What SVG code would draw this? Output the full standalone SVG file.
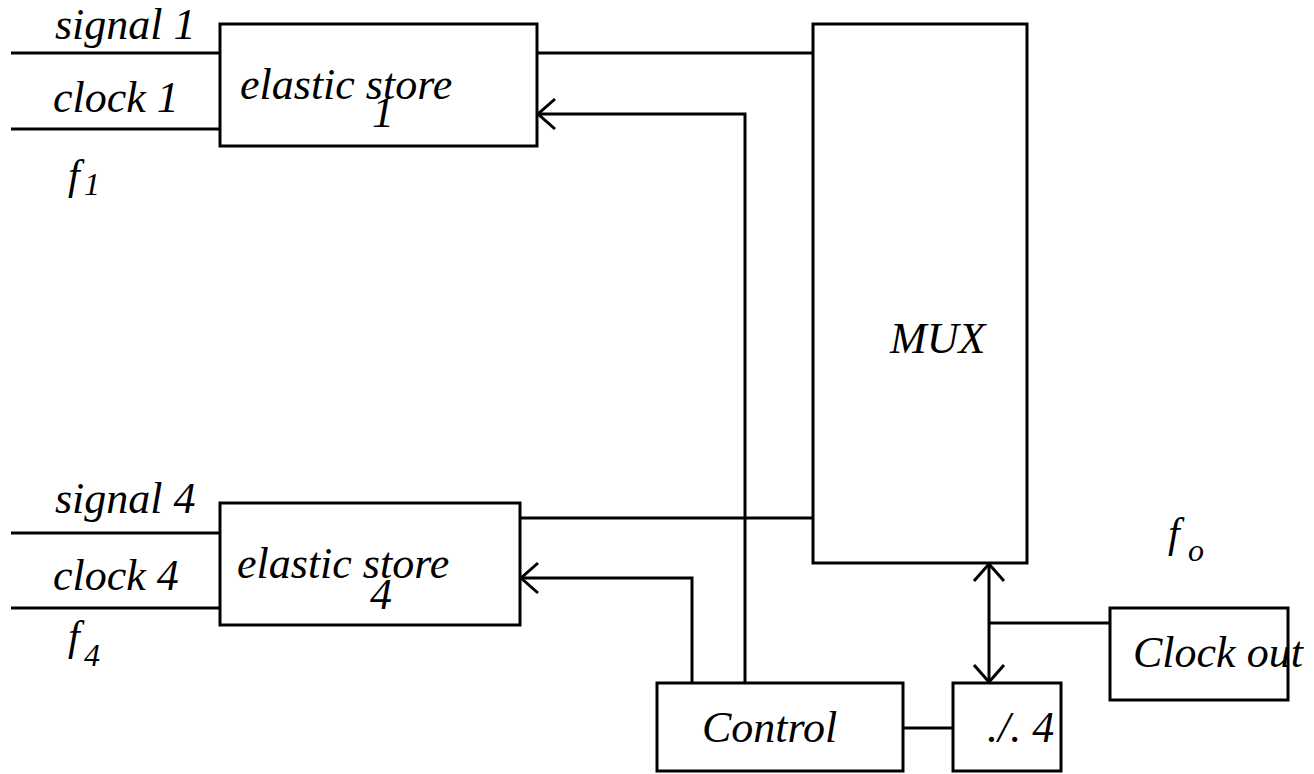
<svg xmlns="http://www.w3.org/2000/svg" width="1314" height="774" viewBox="0 0 1314 774">
  <style>
    text { font-family: 'Liberation Serif', 'DejaVu Serif', serif; font-style: italic; font-size: 44px; fill: #000; }
    .sub { font-size: 32px; }
    .fsym { font-size: 42px; }
    rect.box { fill: #fff; stroke: #000; stroke-width: 3; }
    .wire { fill: none; stroke: #000; stroke-width: 3; }
  </style>
  <defs>
    <marker id="chev" viewBox="-20 -18 22 36" refX="0" refY="0" markerWidth="22" markerHeight="36" markerUnits="userSpaceOnUse" orient="auto-start-reverse">
      <path d="M-17,-15 L0,0 L-17,15" fill="none" stroke="#000" stroke-width="3"/>
    </marker>
  </defs>

  <rect width="1314" height="774" fill="#fff"/>

  <!-- wiring -->
  <g id="connectors">
    <path class="wire" d="M11,53 H220"/>
    <path class="wire" d="M11,129 H220"/>
    <path class="wire" d="M11,533 H220"/>
    <path class="wire" d="M11,608 H220"/>
    <path class="wire" d="M537,53 H813"/>
    <path class="wire" d="M520,518 H813"/>
    <path class="wire" d="M745,683 V114 H538" marker-end="url(#chev)"/>
    <path class="wire" d="M692,683 V578 H521" marker-end="url(#chev)"/>
    <path class="wire" d="M989,682 V564" marker-start="url(#chev)" marker-end="url(#chev)"/>
    <path class="wire" d="M989,623 H1110"/>
    <path class="wire" d="M903,728 H953"/>
  </g>

  <!-- input labels -->
  <g id="inputs1">
    <text x="55" y="39">signal 1</text>
    <text x="53" y="112">clock 1</text>
    <text class="fsym" x="68" y="189">f</text>
    <text class="sub" x="84" y="195">1</text>
  </g>
  <g id="inputs4">
    <text x="55" y="513">signal 4</text>
    <text x="53" y="590">clock 4</text>
    <text class="fsym" x="68" y="650">f</text>
    <text class="sub" x="84" y="666">4</text>
  </g>

  <g id="store1">
    <rect class="box" x="220" y="24" width="317" height="122"/>
    <text x="240" y="99">elastic store</text>
    <text x="372" y="127">1</text>
  </g>

  <g id="store4">
    <rect class="box" x="220" y="503" width="300" height="122"/>
    <text x="237" y="578">elastic store</text>
    <text x="370" y="609">4</text>
  </g>

  <g id="mux">
    <rect class="box" x="813" y="24" width="214" height="539"/>
    <text x="890" y="353">MUX</text>
  </g>

  <g id="control">
    <rect class="box" x="657" y="683" width="246" height="88"/>
    <text x="702" y="742">Control</text>
  </g>

  <g id="divider">
    <rect class="box" x="953" y="683" width="108" height="88"/>
    <text x="987" y="742">./. 4</text>
  </g>

  <g id="clockout">
    <rect class="box" x="1110" y="608" width="178" height="92"/>
    <text x="1133" y="667">Clock out</text>
    <text class="fsym" x="1168" y="547">f</text>
    <text class="sub" x="1188" y="561">o</text>
  </g>
</svg>
